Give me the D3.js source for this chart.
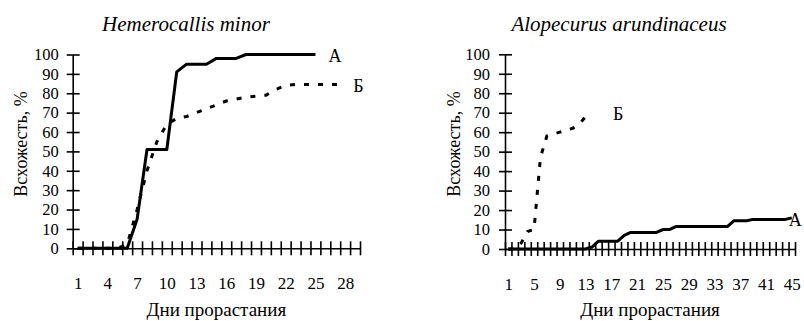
<!DOCTYPE html>
<html><head><meta charset="utf-8">
<script src="https://cdn.jsdelivr.net/npm/d3@7"></script>
<style>
html,body{margin:0;padding:0;background:#fff;}
svg{display:block;}
svg text{fill:#000;}
</style></head>
<body>
<svg id="c" width="804" height="321"></svg>
<script>
// ---- Data ----
const leftTitle = "Hemerocallis minor";
const rightTitle = "Alopecurus arundinaceus";
const yTitle = "Всхожесть, %";
const xTitle = "Дни прорастания";
const yTicks = [0,10,20,30,40,50,60,70,80,90,100];

const leftDays = d3.range(1, 30);              // categories 1..29
const leftXLabels = [1,4,7,10,13,16,19,22,25,28];
const leftA = [0,0,0,0,0,0,15,51,51,51,91,95,95,95,98,98,98,100,100,100,100,100,100,100,100];
const leftB = [0,0,0,0,0,2,20,40,55,64,67,68,70,72,74,76,77,78,78.5,79,82,84,84.5,84.5,84.5,84.5,84.5,84.5];

const rightDays = d3.range(1, 46);             // categories 1..45
const rightXLabels = [1,5,9,13,17,21,25,29,33,37,41,45];
const rightA = [0,0,0,0,0,0,0,0,0,0,0,0,0,1,4,4,4,4,7,8.5,8.5,8.5,8.5,8.5,10,10,11.5,11.5,11.5,11.5,11.5,11.5,11.5,11.5,11.5,14.5,14.5,14.5,15.2,15.2,15.2,15.2,15.2,15.2,16];
const rightB = [0,0,3,9,10,47,58,59,60,61,62,64,68,68];

const svg = d3.select("#c");
const FONT = "Liberation Serif, Liberation Sans, sans-serif";

function panel(cfg){
  const g = svg.append("g").attr("font-family", FONT);
  const n = cfg.days.length;
  const x = d3.scaleLinear().domain([0.5, n + 0.5]).range([cfg.x0, cfg.x1]);
  const y = d3.scaleLinear().domain([0,100]).range([cfg.yb, cfg.yt]);

  // y axis
  const ya = g.append("g").attr("transform", `translate(${cfg.x0},0)`)
    .call(d3.axisLeft(y).tickValues(yTicks).tickSizeInner(6).tickSizeOuter(0).tickPadding(cfg.ypad));
  ya.attr("font-family", FONT);
  ya.select(".domain").attr("stroke","#000").attr("stroke-width",1.6);
  ya.selectAll(".tick line").attr("x2",7).attr("x1",-6).attr("stroke","#000").attr("stroke-width",1.6);
  ya.selectAll(".tick text").attr("font-size",16.5);

  // x axis (ticks at category boundaries)
  const xa = g.append("g").attr("transform", `translate(0,${cfg.yb})`)
    .call(d3.axisBottom(x).tickValues(d3.range(0, n+1).map(i => i + 0.5)).tickFormat("").tickSizeOuter(0));
  xa.select(".domain").attr("stroke","#000").attr("stroke-width",1.6);
  xa.selectAll(".tick line").attr("y1",-7).attr("y2",7).attr("stroke","#000").attr("stroke-width",1.6);

  const xl = g.append("g").attr("transform", `translate(0,${cfg.yb})`)
    .call(d3.axisBottom(x).tickValues(cfg.labels).tickSize(0).tickPadding(29));
  xl.attr("font-family", FONT);
  xl.select(".domain").remove();
  xl.selectAll(".tick text").attr("font-size",17);

  // lines
  const line = d3.line().x((d,i) => x(i+1)).y(d => y(d));
  g.append("path").datum(cfg.A).attr("d", line).attr("fill","none")
    .attr("stroke","#000").attr("stroke-width",3).attr("stroke-linejoin","round");
  g.append("path").datum(cfg.B).attr("d", line).attr("fill","none")
    .attr("stroke","#000").attr("stroke-width",3).attr("stroke-dasharray","5,9");

  // series labels
  const la = cfg.A.length, lb = cfg.B.length;
  g.append("text").attr("x", x(la) + cfg.aDx).attr("y", y(cfg.A[la-1]) + cfg.aDy)
    .attr("font-size",18).text("А");
  g.append("text").attr("x", x(lb) + cfg.bDx).attr("y", y(cfg.B[lb-1]) + cfg.bDy)
    .attr("font-size",18).text("Б");

  // titles
  g.append("text").attr("x", cfg.titleX).attr("y", 31).attr("text-anchor","middle")
    .attr("font-size",21).attr("font-style","italic").text(cfg.title);
  g.append("text").attr("transform", `translate(${cfg.ytX},${cfg.ytY}) rotate(-90)`)
    .attr("text-anchor","middle").attr("font-size",18).text(yTitle);
  g.append("text").attr("x", (cfg.x0 + cfg.x1)/2).attr("y", 316).attr("text-anchor","middle")
    .attr("font-size",19).text(xTitle);
}

panel({days:leftDays, labels:leftXLabels, A:leftA, B:leftB, title:leftTitle,
  x0:72.7, x1:360, yb:248.3, yt:54.5, ypad:8, titleX:186, ytX:27, ytY:144,
  aDx:13, aDy:7, bDx:8, bDy:7});
panel({days:rightDays, labels:rightXLabels, A:rightA, B:rightB, title:rightTitle,
  x0:505, x1:795, yb:249, yt:54.3, ypad:9, titleX:619, ytX:460, ytY:144,
  aDx:-3, aDy:8, bDx:21, bDy:3});
</script>
</body></html>
